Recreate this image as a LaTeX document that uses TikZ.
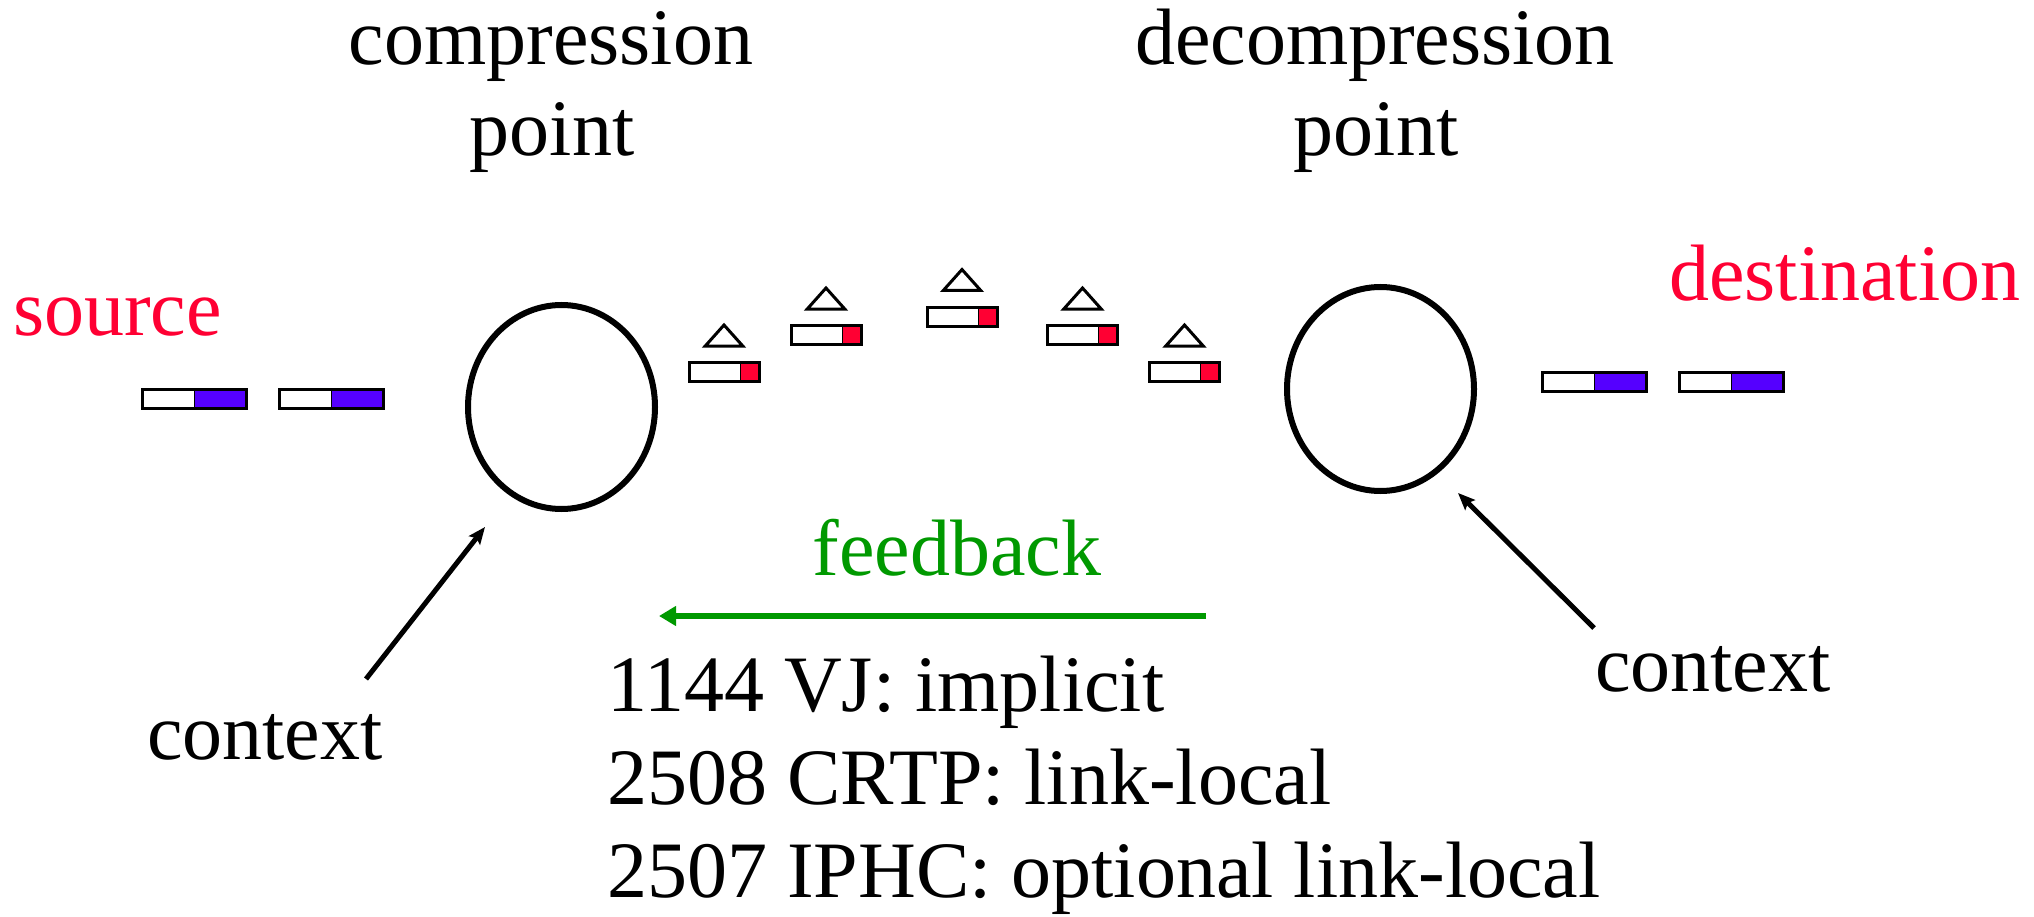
\documentclass[tikz,border=0pt]{standalone}
\usepackage{fontspec}
\setmainfont{Liberation Serif}
\usetikzlibrary{arrows.meta,shapes.geometric}
\definecolor{hdrred}{RGB}{255,0,51}
\definecolor{hdrpurple}{RGB}{85,0,255}
\definecolor{fbgreen}{RGB}{0,153,0}
\begin{document}
\begin{tikzpicture}[x=1pt,y=-1pt,
  lbl/.style={font=\fontsize{80}{93}\selectfont,inner sep=0pt},
  cpoint/.style={draw,ellipse,line width=6pt,inner sep=0pt,minimum width=187pt,minimum height=204pt},
  pkt/.style={line width=3pt},
  ctxarrow/.style={line width=5pt,-{Stealth[length=17pt,width=14pt,inset=3pt]}},
  fbarrow/.style={fbgreen,line width=6pt,-{Triangle[length=17pt,width=19pt]}}]
\useasboundingbox (0,0) rectangle (2034,917);
% labels
\node[lbl,anchor=base] (comp-l1) at (551,65) {compression};
\node[lbl,anchor=base] (comp-l2) at (552,156) {point};
\node[lbl,anchor=base] (decomp-l1) at (1375,65) {decompression};
\node[lbl,anchor=base] (decomp-l2) at (1376,156) {point};
\node[lbl,anchor=base west,text=hdrred] (source) at (13,335) {source};
\node[lbl,anchor=base west,text=hdrred] (dest) at (1669,301) {destination};
% compression and decompression points
\node[cpoint] (comp) at (561.5,407) {};
\node[cpoint] (decomp) at (1380.5,389) {};
% uncompressed packets
\foreach \x/\y in {142/389,279/389,1542/372,1679/372}
{
\fill[hdrpurple] (\x+52,\y) rectangle (\x+104,\y+19);
\draw[pkt] (\x,\y) rectangle (\x+104,\y+19);
\draw[line width=1pt] (\x+52,\y) -- (\x+52,\y+19);
}
% compressed packets
\foreach \x/\y in {724/372,826/335,962/316.5,1082.5/335,1184.5/372}
{
\fill[hdrred] (\x+16,\y-9.5) rectangle (\x+35,\y+9.5);
\draw[pkt] (\x-35,\y-9.5) rectangle (\x+35,\y+9.5);
\draw[line width=1pt] (\x+16,\y-9.5) -- (\x+16,\y+9.5);
\draw[pkt] (\x-18.75,\y-26) -- (\x,\y-47) -- (\x+18.75,\y-26) -- cycle;
}
% context
\node[lbl,anchor=base west] (ctx-l) at (147,759) {context};
\node[lbl,anchor=base west] (ctx-r) at (1595,691) {context};
\coordinate (ctx-l-from) at (366,679);
\coordinate (ctx-l-to) at (485,527);
\coordinate (ctx-r-from) at (1594,628);
\coordinate (ctx-r-to) at (1458,493);
\draw[ctxarrow] (ctx-l-from) -- (ctx-l-to);
\draw[ctxarrow] (ctx-r-from) -- (ctx-r-to);
% feedback
\node[lbl,anchor=base,text=fbgreen] (fb) at (957,575) {feedback};
\coordinate (fb-from) at (1206,616);
\coordinate (fb-to) at (659,616);
\draw[fbarrow] (fb-from) -- (fb-to);
\node[lbl,anchor=base west] (rfc1) at (607,711) {1144 VJ: implicit};
\node[lbl,anchor=base west] (rfc2) at (607,804) {2508 CRTP: link-local};
\node[lbl,anchor=base west] (rfc3) at (607,897) {2507 IPHC: optional link-local};
\end{tikzpicture}
\end{document}
